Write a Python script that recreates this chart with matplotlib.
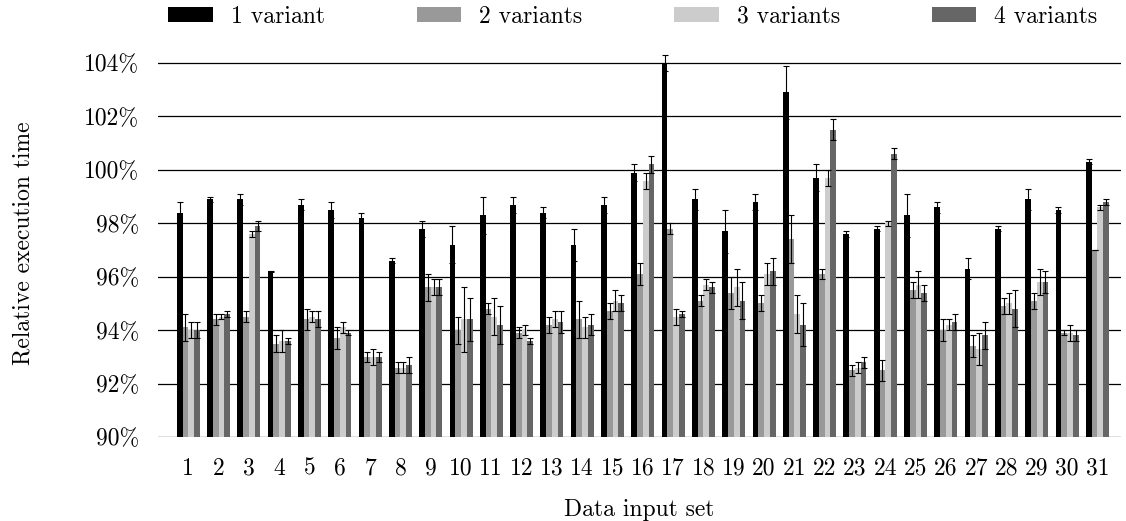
import numpy as np
import matplotlib
matplotlib.use('Agg')
import matplotlib.pyplot as plt

# values (percent of baseline), +/- error
data_sets = list(range(1, 32))

v1 = [98.4, 98.9, 98.9, 96.2, 98.7, 98.5, 98.2, 96.6, 97.8, 97.2, 98.3, 98.7, 98.4, 97.2, 98.7, 99.9,
      104.0, 98.9, 97.7, 98.8, 102.9, 99.7, 97.6, 97.8, 98.3, 98.6, 96.3, 97.8, 98.9, 98.5, 100.3]
e1 = [0.4, 0.1, 0.2, 0.03, 0.2, 0.3, 0.2, 0.1, 0.3, 0.7, 0.7, 0.3, 0.2, 0.6, 0.3, 0.3,
      0.3, 0.4, 0.8, 0.3, 1.0, 0.5, 0.1, 0.1, 0.8, 0.2, 0.4, 0.1, 0.4, 0.1, 0.1]
v2 = [94.1, 94.4, 94.5, 93.5, 94.4, 93.7, 93.0, 92.6, 95.6, 94.0, 94.8, 93.9, 94.2, 94.4, 94.7, 96.1,
      97.8, 95.1, 95.4, 95.0, 97.4, 96.1, 92.5, 92.5, 95.5, 94.0, 93.4, 94.9, 95.1, 93.9, 97.0]
e2 = [0.5, 0.2, 0.2, 0.3, 0.4, 0.4, 0.2, 0.2, 0.5, 0.5, 0.2, 0.2, 0.3, 0.7, 0.3, 0.4,
      0.2, 0.2, 0.6, 0.3, 0.9, 0.2, 0.2, 0.4, 0.3, 0.4, 0.4, 0.3, 0.3, 0.1, 0.0]
v3 = [94.0, 94.5, 97.6, 93.6, 94.5, 94.1, 93.0, 92.6, 95.6, 94.4, 94.5, 94.0, 94.4, 94.1, 95.1, 99.6,
      94.5, 95.7, 95.6, 96.1, 94.6, 99.7, 92.6, 98.0, 95.7, 94.2, 93.3, 95.0, 95.8, 93.9, 98.6]
e3 = [0.3, 0.1, 0.1, 0.4, 0.2, 0.2, 0.3, 0.2, 0.3, 1.2, 0.7, 0.2, 0.3, 0.4, 0.4, 0.3,
      0.3, 0.2, 0.7, 0.4, 0.7, 0.3, 0.2, 0.1, 0.5, 0.2, 0.6, 0.4, 0.5, 0.3, 0.1]
v4 = [94.0, 94.6, 97.9, 93.6, 94.4, 93.9, 93.0, 92.7, 95.6, 94.4, 94.2, 93.6, 94.3, 94.2, 95.0, 100.2,
      94.6, 95.6, 95.1, 96.2, 94.2, 101.5, 92.8, 100.6, 95.4, 94.3, 93.8, 94.8, 95.8, 93.8, 98.8]
e4 = [0.3, 0.1, 0.2, 0.1, 0.3, 0.1, 0.2, 0.3, 0.3, 0.8, 0.7, 0.1, 0.4, 0.4, 0.3, 0.3,
      0.1, 0.2, 0.7, 0.5, 0.8, 0.4, 0.2, 0.2, 0.3, 0.3, 0.5, 0.7, 0.4, 0.2, 0.1]

labels = ['1 variant', '2 variants', '3 variants', '4 variants']
colors = ['#000000', '#999999', '#cccccc', '#666666']
y_ticks = [90, 92, 94, 96, 98, 100, 102, 104]

plt.rcParams['font.family'] = ['cmr10', 'DejaVu Serif']
plt.rcParams['font.size'] = 17

fig = plt.figure(figsize=(11.26, 5.21), dpi=100)
ax = fig.add_axes([0.1403, 0.1612, 0.8553, 0.7436])

x = np.array(data_sets)
w = 0.19
series = [(v1, e1), (v2, e2), (v3, e3), (v4, e4)]
for i, (vals, errs) in enumerate(series):
    ax.bar(x + (i - 1.5) * w, vals, w, yerr=errs, color=colors[i], label=labels[i],
           error_kw=dict(ecolor='black', elinewidth=0.8, capsize=2.5, capthick=0.8))

ax.set_xlim(0, 31.78)
ax.set_ylim(90, 104.5)
ax.set_xticks(x)
ax.set_xticklabels([str(d) for d in data_sets])
ax.set_yticks(y_ticks)
ax.set_yticklabels([f'{t}%' for t in y_ticks])
ax.tick_params(axis='both', length=0)
ax.tick_params(axis='y', pad=13.7)
ax.tick_params(axis='x', pad=15)

for s in ax.spines.values():
    s.set_visible(False)
ax.yaxis.grid(True, color='black', linewidth=0.9)
ax.set_axisbelow(True)

ax.set_ylabel('Relative execution time')
ax.yaxis.set_label_coords(-0.128, 0.5)
ax.set_xlabel('Data input set')
ax.xaxis.set_label_coords(0.5, -0.16)

fig.legend(loc='center', bbox_to_anchor=(0.562, 0.968), ncol=4, frameon=False,
           handlelength=1.9, handleheight=0.64, handletextpad=0.76, columnspacing=3.88,
           borderaxespad=0, borderpad=0)

fig.savefig('out.png', dpi=100)
